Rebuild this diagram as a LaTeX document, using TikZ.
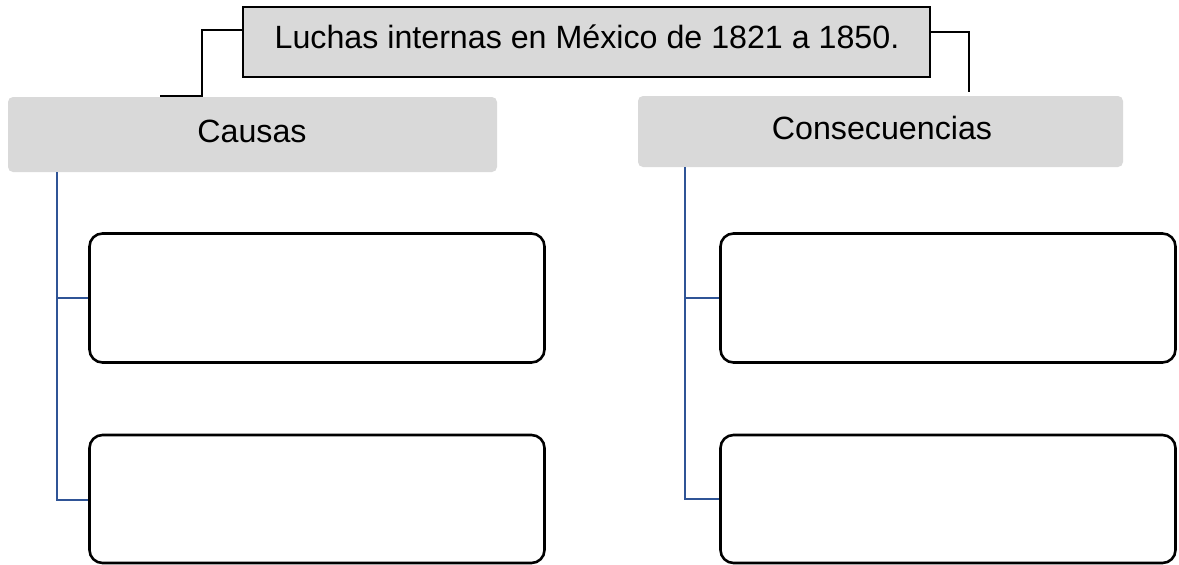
\documentclass[tikz,border=0pt]{standalone}
\usepackage{fontspec}
\setmainfont{Liberation Sans}
\definecolor{boxgray}{HTML}{D9D9D9}
\definecolor{linkblue}{RGB}{47,84,150}
\begin{document}
\begin{tikzpicture}[x=1pt,y=-1pt,
  titlebox/.style={draw=black,line width=1.4pt,fill=boxgray,inner sep=0pt},
  headbox/.style={fill=boxgray,rounded corners=5pt,inner sep=0pt},
  emptybox/.style={draw=black,line width=2.6pt,rounded corners=13pt,inner sep=0pt},
  lbl/.style={font=\fontsize{32.2}{37}\selectfont,inner sep=0pt},
  blackline/.style={draw=black,line width=2.3pt},
  blueline/.style={draw=linkblue,line width=2.6pt}]
\useasboundingbox (0,0) rectangle (1179,565);
% title
\path[titlebox] (243,7) rectangle (930,77);
\node[coordinate] (tW) at (243,30) {};
\node[coordinate] (tE) at (930,32) {};
\node[lbl] (title) at (587,37) {Luchas internas en México de 1821 a 1850.};
% heads
\path[headbox] (8,97) rectangle (497,172);
\node[lbl] (causas) at (252,131) {Causas};
\path[headbox] (638,96) rectangle (1123,167);
\node[lbl] (cons) at (882,128) {Consecuencias};
% empty boxes
\node[emptybox,minimum width=455pt,minimum height=129pt] (c1) at (317,298) {};
\node[emptybox,minimum width=455pt,minimum height=128pt] (c2) at (317,499) {};
\node[emptybox,minimum width=455pt,minimum height=129pt] (k1) at (948,298) {};
\node[emptybox,minimum width=455pt,minimum height=128pt] (k2) at (948,499) {};
% black connectors
\coordinate (lA) at (202,30);
\coordinate (lB) at (202,96);
\coordinate (lC) at (160,96);
\draw[blackline] (tW) -- (lA) -- (lB) -- (lC);
\coordinate (rA) at (969,32);
\coordinate (rB) at (969,92);
\draw[blackline] (tE) -- (rA) -- (rB);
% blue connectors
\coordinate (bl0) at (57,172);
\coordinate (bl1) at (57,298);
\coordinate (bl2) at (57,500);
\draw[blueline] (bl0) -- (bl2) -- (c2.west |- bl2);
\draw[blueline] (bl1) -- (c1.west |- bl1);
\coordinate (br0) at (685,167);
\coordinate (br1) at (685,298);
\coordinate (br2) at (685,499);
\draw[blueline] (br0) -- (br2) -- (k2.west |- br2);
\draw[blueline] (br1) -- (k1.west |- br1);
\end{tikzpicture}
\end{document}
